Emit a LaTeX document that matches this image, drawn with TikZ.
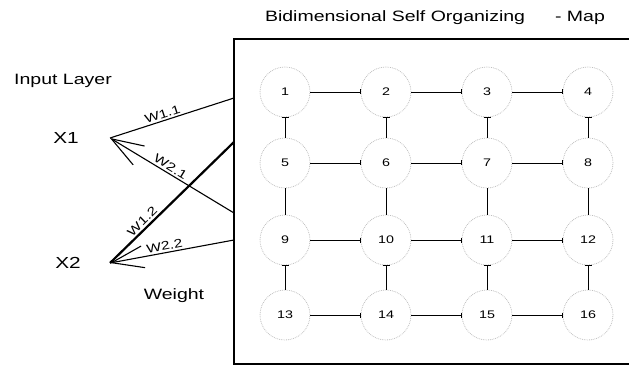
\documentclass[tikz,border=0pt]{standalone}
\usepackage{fontspec}
\setmainfont[FakeStretch=1.3]{Liberation Sans}
\usetikzlibrary{arrows.meta,positioning}
\tikzset{
  unit/.style={circle, draw=gray!50, densely dotted, thick, minimum size=50pt, inner sep=0pt, font=\fontsize{11}{13}\selectfont},
  hlink/.style={thick, -{Bar[width=5pt]}},
  vlink/.style={thick, {Bar[width=7pt]}-},
  wline/.style={line width=1.1pt},
  barb/.style={{Straight Barb[length=32pt,width=22pt,line width=1.1pt]}-},
  wlabel/.style={sloped, above=1.5pt, inner sep=0.5pt, font=\fontsize{12}{14}\selectfont},
  txt/.style={font=\fontsize{15}{18}\selectfont}
}
\begin{document}
\begin{tikzpicture}[x=1pt, y=-1pt, node distance=101pt and 101pt, on grid]
\useasboundingbox (0,0) rectangle (629,366);
% the map
\draw[line width=1.5pt] (629,39) -- (234,39) -- (234,364) -- (629,364);
\node[txt] (title) at (435,18) {Bidimensional Self Organizing\hspace{30pt}- Map};
\node[unit] (u1) at (285,92) {1};
\node[unit, right=of u1] (u2) {2}; \node[unit, right=of u2] (u3) {3}; \node[unit, right=of u3] (u4) {4};
\node[unit, below=71pt of u1] (u5) {5}; \node[unit, right=of u5] (u6) {6}; \node[unit, right=of u6] (u7) {7}; \node[unit, right=of u7] (u8) {8};
\node[unit, below=77pt of u5] (u9) {9}; \node[unit, right=of u9] (u10) {10}; \node[unit, right=of u10] (u11) {11}; \node[unit, right=of u11] (u12) {12};
\node[unit, below=75pt of u9] (u13) {13}; \node[unit, right=of u13] (u14) {14}; \node[unit, right=of u14] (u15) {15}; \node[unit, right=of u15] (u16) {16};
\draw[hlink] (u1) -- (u2); \draw[hlink] (u2) -- (u3); \draw[hlink] (u3) -- (u4);
\draw[hlink] (u5) -- (u6); \draw[hlink] (u6) -- (u7); \draw[hlink] (u7) -- (u8);
\draw[hlink] (u9) -- (u10); \draw[hlink] (u10) -- (u11); \draw[hlink] (u11) -- (u12);
\draw[hlink] (u13) -- (u14); \draw[hlink] (u14) -- (u15); \draw[hlink] (u15) -- (u16);
\draw[vlink] (u1) -- (u5); \draw[vlink] (u2) -- (u6); \draw[vlink] (u3) -- (u7); \draw[vlink] (u4) -- (u8);
\draw[thick] (u5) -- (u9); \draw[thick] (u6) -- (u10); \draw[thick] (u7) -- (u11); \draw[thick] (u8) -- (u12);
\draw[vlink] (u9) -- (u13); \draw[vlink] (u10) -- (u14); \draw[vlink] (u11) -- (u15); \draw[vlink] (u12) -- (u16);
% input layer
\node[txt] (input) at (63,81) {Input Layer};
\node[txt, font=\fontsize{16}{18}\selectfont] (x1) at (66,138) {X1};
\node[txt, font=\fontsize{16}{18}\selectfont] (x2) at (68,263) {X2};
\node[txt] (weight) at (174,296) {Weight};
\coordinate (x1out) at (110,138); \coordinate (x2out) at (110,263);
\coordinate (b1) at (234,98); \coordinate (b2) at (234,213);
\coordinate (b3) at (234,142); \coordinate (b4) at (234,240);
\draw[wline] (x1out) -- node[wlabel, pos=0.44] {W1.1} (b1);
\draw[wline, barb] (x1out) -- node[wlabel, pos=0.46] {W2.1} (b2);
\draw[line width=2.2pt] (x2out) -- node[wlabel, pos=0.3] {W1.2} (b3);
\draw[wline, barb] (x2out) -- node[wlabel, pos=0.45] {W2.2} (b4);
\end{tikzpicture}
\end{document}
